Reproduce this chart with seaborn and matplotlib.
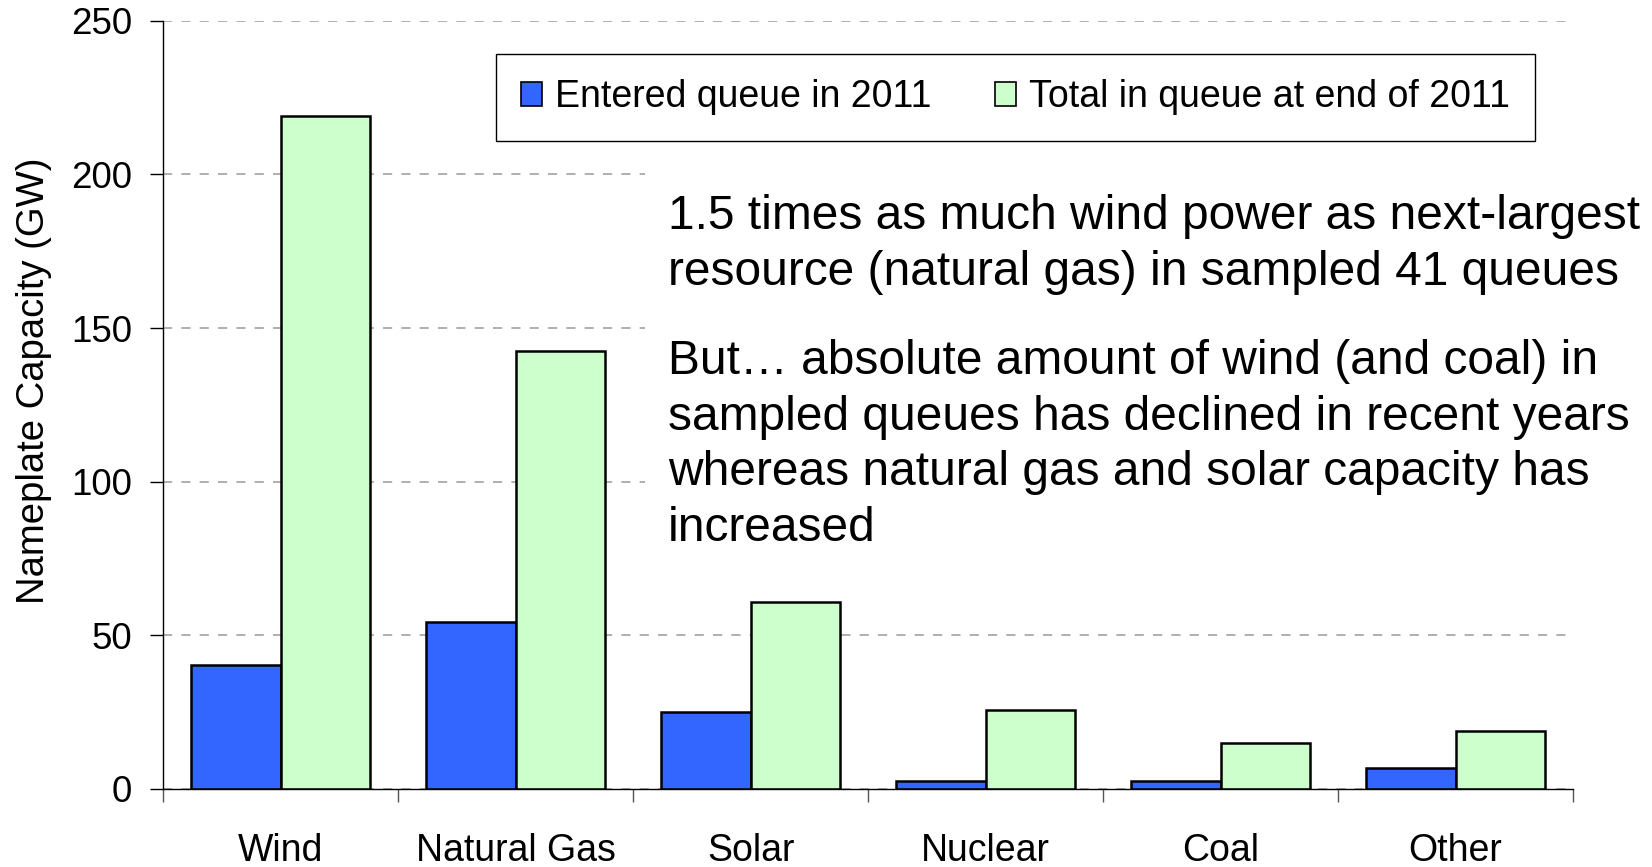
import numpy as np
import matplotlib
matplotlib.use("Agg")
import matplotlib.pyplot as plt
from matplotlib.patches import Patch, Rectangle
import pandas as pd
import seaborn as sns

# values (GW)
sources = ['Wind', 'Natural Gas', 'Solar', 'Nuclear', 'Coal', 'Other']
entered_2011 = [40.5, 54.2, 25.0, 2.7, 2.7, 6.9]
total_end_2011 = [219.1, 142.7, 61.0, 25.7, 15.1, 18.9]
series_names = ['Entered queue in 2011', 'Total in queue at end of 2011']
bar_colors = ['#3366FF', '#CCFFCC']
yticks = [0, 50, 100, 150, 200, 250]

df = pd.DataFrame({
    'source': sources * 2,
    'gw': entered_2011 + total_end_2011,
    'series': [series_names[0]] * len(sources) + [series_names[1]] * len(sources),
})

sns.set_style('white')
plt.rcParams['font.family'] = ['Liberation Sans', 'DejaVu Sans']
plt.rcParams['text.color'] = 'black'
plt.rcParams['axes.labelcolor'] = 'black'
plt.rcParams['xtick.color'] = 'black'
plt.rcParams['ytick.color'] = 'black'

fig = plt.figure(figsize=(16.52, 8.67), dpi=100)
ax = fig.add_axes([0.0987, 0.09, 0.8535, 0.886])

sns.barplot(data=df, x='source', y='gw', hue='series', palette=bar_colors,
            width=0.76, saturation=1, edgecolor='black', linewidth=1.8,
            legend=False, ax=ax)

ax.set_xlim(-0.5, len(sources) - 0.5)
ax.set_ylim(0, 250)
ax.set_yticks(yticks)
ax.yaxis.grid(True, linestyle=(0, (6, 6)), color='#9a9a9a', linewidth=1.1)
ax.xaxis.grid(False)
ax.set_axisbelow(True)

for side in ['top', 'right']:
    ax.spines[side].set_visible(False)
for side in ['left', 'bottom']:
    ax.spines[side].set_color('black')
    ax.spines[side].set_linewidth(1.0)

# category separators like the excel original
ax.set_xticks(np.arange(len(sources)))
ax.set_xticks(np.arange(len(sources) + 1) - 0.5, minor=True)
ax.tick_params(axis='x', which='major', length=0, pad=32, labelsize=27,
               labelcolor='black')
ax.tick_params(axis='x', which='minor', bottom=True, length=9.5, width=1,
               color='#555555', direction='out')
ax.tick_params(axis='y', which='major', length=9.5, width=1, color='black',
               direction='out', left=True, pad=13, labelsize=26.5,
               labelcolor='black')

ax.set_xlabel('')
ax.set_ylabel('Nameplate Capacity (GW)', fontsize=27.5, color='black')
ax.yaxis.set_label_coords(-0.079, 0.531)

# white panel behind the notes hides the gridlines there (below the bars)
ax.add_patch(Rectangle((0.3416, 0.235), 0.66, 0.6, transform=ax.transAxes,
                       facecolor='white', edgecolor='none', zorder=0.8, clip_on=False))

handles = [Patch(facecolor=c, edgecolor='black', linewidth=1.2) for c in bar_colors]
leg = ax.legend(handles, series_names, ncol=2, loc='center',
                bbox_to_anchor=(0.6045, 0.9005), fontsize=27,
                handlelength=0.56, handleheight=0.62, handletextpad=0.34,
                columnspacing=1.7, borderpad=0.68, fancybox=False,
                framealpha=1, edgecolor='black')
leg.get_frame().set_linewidth(1.0)
for t in leg.get_texts():
    t.set_color('black')

fig.text(0.4044, 0.7183,
         '1.5 times as much wind power as next-largest\nresource (natural gas) in sampled 41 queues',
         fontsize=34.5, va='center', ha='left', linespacing=1.31, color='black')
fig.text(0.4044, 0.4867,
         'But\u2026 absolute amount of wind (and coal) in\nsampled queues has declined in recent years\n'
         'whereas natural gas and solar capacity has\nincreased',
         fontsize=34.5, va='center', ha='left', linespacing=1.31, color='black')

fig.savefig('out.png', dpi=100)
